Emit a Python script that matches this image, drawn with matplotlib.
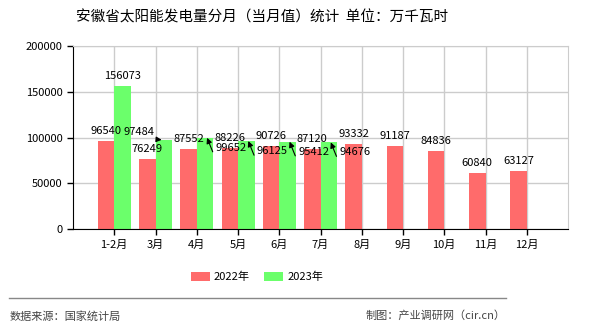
import matplotlib
matplotlib.use('Agg')
import matplotlib.pyplot as plt
from matplotlib.lines import Line2D
import numpy as np

plt.rcParams['font.family'] = ['Noto Sans CJK SC', 'DejaVu Sans']

months = ['1-2月', '3月', '4月', '5月', '6月', '7月', '8月', '9月', '10月', '11月', '12月']
values_2022 = [96540, 76249, 87552, 88226, 90726, 87120, 93332, 91187, 84836, 60840, 63127]
values_2023 = [156073, 97484, 99652, 96125, 95412, 94676]

red = '#ff6b6b'
green = '#6bff6b'
width = 0.4

fig = plt.figure(figsize=(5.9, 3.3), dpi=100)
ax = fig.add_axes([73 / 590, 1 - 229 / 330, 495 / 590, 183 / 330])

x = np.arange(len(months))
x23 = np.arange(len(values_2023))
ax.bar(x - width / 2, values_2022, width, color=red, label='2022年', zorder=2)
ax.bar(x23 + width / 2, values_2023, width, color=green, label='2023年', zorder=2)

ax.set_xlim(-1, len(months))
ax.set_ylim(0, 200000)
ax.set_yticks(np.arange(0, 200001, 50000))
ax.set_xticks(x)
ax.set_xticklabels(months)
ax.tick_params(axis='both', labelsize=8, length=4, width=1, color='black')
ax.grid(True, color='#cccccc', lw=1, zorder=0)
ax.set_axisbelow(True)
for s in ['top', 'right']:
    ax.spines[s].set_color('#cccccc')
for s in ['left', 'bottom']:
    ax.spines[s].set_color('black')

# labels for 2022
for xi, v in zip(x, values_2022):
    ax.annotate(str(v), (xi - width / 2, v), xytext=(0, 5), textcoords='offset pixels',
                ha='center', va='bottom', fontsize=8, zorder=5)

# labels for 2023 (later ones moved with leader arrows)
for xi, v in zip(x23, values_2023):
    if xi == 0:
        ax.annotate(str(v), (xi + width / 2, v), xytext=(0, 5), textcoords='offset pixels',
                    ha='center', va='bottom', fontsize=8, zorder=5)
    elif xi == 1:
        ax.annotate(str(v), (xi + width / 2 - 0.05, v), xytext=(-23, 3), textcoords='offset pixels',
                    ha='center', va='bottom', fontsize=8, zorder=5,
                    arrowprops=dict(arrowstyle='-|>', color='black', lw=0.8,
                                    relpos=(0, 0), shrinkA=0, shrinkB=0,
                                    mutation_scale=8))
    else:
        ax.annotate(str(v), (xi + width / 2 + 0.05, v), xytext=(24, -15), textcoords='offset pixels',
                    ha='center', va='bottom', fontsize=8, zorder=5,
                    arrowprops=dict(arrowstyle='-|>', color='black', lw=0.8,
                                    relpos=(1, 0), shrinkA=0, shrinkB=0,
                                    connectionstyle='angle,angleA=180,angleB=112,rad=0',
                                    mutation_scale=8))

fig.text(262 / 590, 1 - 17 / 330, '安徽省太阳能发电量分月（当月值）统计  单位：万千瓦时',
         ha='center', va='center', fontsize=10.5)

handles, labels = ax.get_legend_handles_labels()
fig.legend(handles, labels, loc='center', bbox_to_anchor=(257 / 590, 1 - 277 / 330),
           ncol=2, frameon=False, fontsize=8, handlelength=1.7, handleheight=0.8,
           columnspacing=1.3, handletextpad=0.35)

fig.add_artist(Line2D([9 / 590, 506 / 590], [1 - 298 / 330, 1 - 298 / 330],
                      transform=fig.transFigure, color='#888888', lw=1))
fig.text(10 / 590, 1 - 316 / 330, '数据来源：国家统计局', ha='left', va='center',
         fontsize=8, color='#444444')
fig.text(506 / 590, 1 - 316 / 330, '制图：产业调研网（cir.cn）', ha='right', va='center',
         fontsize=8, color='#444444')

fig.savefig('out.png', dpi=100)
